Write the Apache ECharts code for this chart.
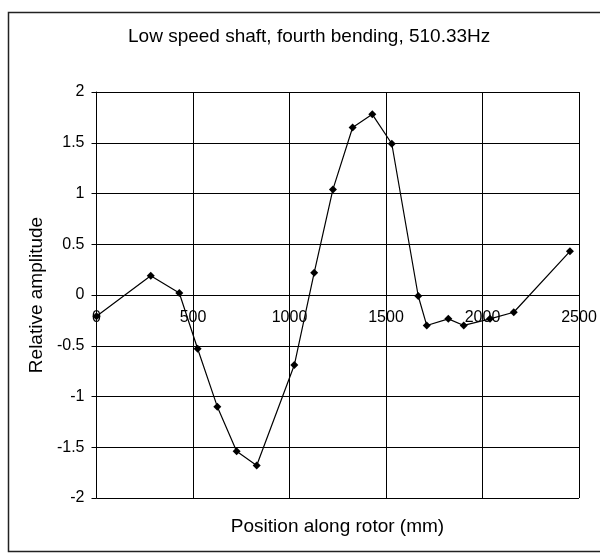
<!DOCTYPE html>
<html>
<head>
<meta charset="utf-8">
<script src="https://cdn.jsdelivr.net/npm/echarts@6/dist/echarts.min.js"></script>
<style>
  html, body { margin: 0; padding: 0; background: #fff; }
  #chart { width: 600px; height: 557px; }
</style>
</head>
<body>
<div id="chart"></div>
<script>
// positions along rotor (mm) and relative amplitude
var positions = [0, 281, 429, 524, 626, 726, 830, 1025, 1128, 1225, 1327, 1429, 1530, 1667, 1711, 1823, 1903, 2039, 2162, 2453];
var amplitudes = [-0.21, 0.19, 0.02, -0.53, -1.1, -1.54, -1.68, -0.69, 0.22, 1.04, 1.65, 1.78, 1.49, -0.01, -0.3, -0.235, -0.3, -0.235, -0.17, 0.43];

var xTicks = [0, 500, 1000, 1500, 2000, 2500];
var yTicks = [-2, -1.5, -1, -0.5, 0, 0.5, 1, 1.5, 2];

var titleText = 'Low speed shaft, fourth bending, 510.33Hz';
var xName = 'Position along rotor (mm)';
var yName = 'Relative amplitude';

var points = positions.map(function (p, i) { return [p, amplitudes[i]]; });

var chart = echarts.init(document.getElementById('chart'));
var font = 'Liberation Sans, Arial, sans-serif';

// plot area: top 92, bottom 498 -> x labels sit on the y=0 line
var gridTop = 92, gridBottom = 59, plotH = 557 - gridTop - gridBottom;
var zeroOffset = -plotH * (0 - yTicks[0]) / (yTicks[yTicks.length - 1] - yTicks[0]);

chart.setOption({
  animation: false,
  backgroundColor: '#fff',
  textStyle: { fontFamily: font, color: '#000' },
  title: {
    text: titleText,
    left: 123,
    top: 22,
    textStyle: { fontFamily: font, fontSize: 19, fontWeight: 'normal', color: '#000' }
  },
  grid: { left: 96.5, right: 21, top: gridTop, bottom: gridBottom },
  xAxis: {
    type: 'value',
    min: xTicks[0],
    max: xTicks[xTicks.length - 1],
    interval: 500,
    offset: zeroOffset,
    axisLine: { show: true, onZero: false, lineStyle: { color: '#000', width: 1 } },
    axisTick: { show: false },
    axisLabel: {
      show: true, margin: 15, fontSize: 16, color: '#000', fontFamily: font,
      showMinLabel: true, showMaxLabel: true, hideOverlap: false,
      formatter: function (v) { return String(v); }
    },
    splitLine: { show: true, lineStyle: { color: '#000', width: 1 } }
  },
  yAxis: {
    type: 'value',
    min: yTicks[0],
    max: yTicks[yTicks.length - 1],
    interval: 0.5,
    name: yName,
    nameLocation: 'middle',
    nameGap: 48,
    nameTextStyle: { fontSize: 19, color: '#000', fontFamily: font },
    axisLine: { show: true, onZero: false, lineStyle: { color: '#000', width: 1 } },
    axisTick: { show: true, inside: false, length: 5, lineStyle: { color: '#000' } },
    axisLabel: { margin: 12, fontSize: 16, color: '#000', fontFamily: font },
    splitLine: { show: true, lineStyle: { color: '#000', width: 1 } }
  },
  graphic: [
    {
      type: 'rect',
      shape: { x: 8.5, y: 12.5, width: 620, height: 539 },
      style: { fill: 'none', stroke: '#222', lineWidth: 1.5 },
      silent: true
    },
    {
      type: 'text',
      x: 337.5,
      y: 527,
      style: { text: xName, fontSize: 19, fontFamily: font, fill: '#000', textAlign: 'center', textVerticalAlign: 'middle' }
    }
  ],
  series: [{
    type: 'line',
    data: points,
    symbol: 'diamond',
    symbolSize: 8,
    itemStyle: { color: '#000' },
    lineStyle: { color: '#000', width: 1.2 }
  }]
});
</script>
</body>
</html>
